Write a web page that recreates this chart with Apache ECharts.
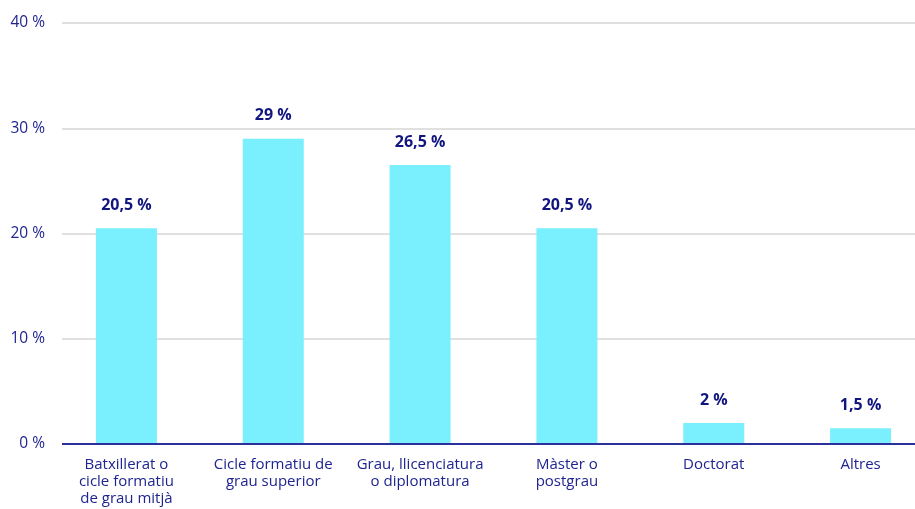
<!DOCTYPE html>
<html>
<head>
<meta charset="utf-8">
<script src="https://cdn.jsdelivr.net/npm/echarts@6/dist/echarts.min.js"></script>
<style>
  html, body { margin: 0; padding: 0; background: #fff; }
  #main { width: 915px; height: 509px; }
</style>
</head>
<body>
<div id="main"></div>
<script>
// categories and values
var categories = [
  'Batxillerat o\ncicle formatiu\nde grau mitjà',
  'Cicle formatiu de\ngrau superior',
  'Grau, llicenciatura\no diplomatura',
  'Màster o\npostgrau',
  'Doctorat',
  'Altres'
];
var values = [20.5, 29, 26.5, 20.5, 2, 1.5];
var yTicks = [0, 10, 20, 30, 40];

var navy = '#1f2490';
var font = '"Open Sans", "Noto Sans", sans-serif';

var chart = echarts.init(document.getElementById('main'), null, { renderer: 'canvas' });

chart.setOption({
  backgroundColor: '#ffffff',
  animation: false,
  grid: [
    // bars
    { left: 53, top: 23, width: 881, height: 421, outerBoundsMode: 'none', containLabel: false },
    // gridlines, y labels, axis line
    { left: 62, top: 23, right: 0, height: 421, outerBoundsMode: 'none', containLabel: false }
  ],
  xAxis: [
    {
      gridIndex: 0,
      type: 'category',
      data: categories,
      axisLine: { show: false },
      axisTick: { show: false },
      axisLabel: {
        color: navy,
        fontFamily: font,
        fontSize: 15,
        lineHeight: 17,
        margin: 12,
        interval: 0
      }
    },
    {
      gridIndex: 1,
      type: 'value',
      min: 0,
      max: 1,
      show: true,
      axisLine: { show: false },
      axisTick: { show: false },
      axisLabel: { show: false },
      splitLine: { show: false }
    }
  ],
  yAxis: [
    {
      gridIndex: 0,
      type: 'value',
      min: 0,
      max: 40,
      interval: 10,
      show: false
    },
    {
      gridIndex: 1,
      type: 'value',
      min: yTicks[0],
      max: yTicks[yTicks.length - 1],
      interval: 10,
      axisLine: { show: false },
      axisTick: { show: false },
      axisLabel: {
        color: navy,
        fontFamily: font,
        fontSize: 15.5,
        margin: 17,
        formatter: function (v) { return v + ' %'; }
      },
      splitLine: { lineStyle: { color: '#e0e0e0', width: 2 } }
    }
  ],
  series: [
    {
      type: 'bar',
      xAxisIndex: 0,
      yAxisIndex: 0,
      data: values,
      barWidth: 61,
      z: 3,
      itemStyle: { color: '#7aeffd' },
      label: {
        show: true,
        position: 'top',
        distance: 15,
        color: '#11167f',
        fontFamily: font,
        fontWeight: 'bold',
        fontSize: 16,
        formatter: function (p) { return String(p.value).replace('.', ',') + ' %'; }
      }
    },
    {
      // baseline drawn on the second grid
      type: 'line',
      xAxisIndex: 1,
      yAxisIndex: 1,
      data: [[0, 0], [1, 0]],
      symbol: 'none',
      silent: true,
      z: 4,
      lineStyle: { color: '#2b309c', width: 2 }
    }
  ]
});
</script>
</body>
</html>
